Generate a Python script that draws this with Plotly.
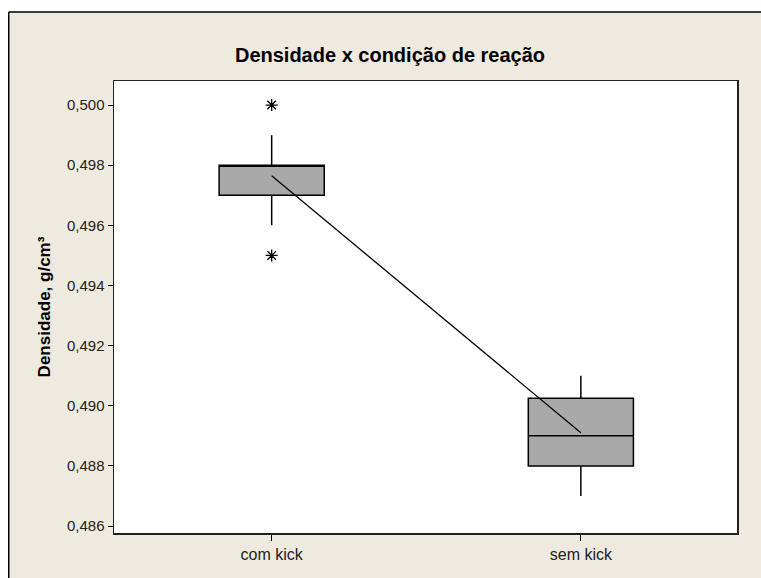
import plotly.graph_objects as go

categories = ["com kick", "sem kick"]
q1 = [0.4970, 0.4880]
median = [0.4980, 0.4890]
q3 = [0.4980, 0.49025]
lower_whisker = [0.4960, 0.4870]
upper_whisker = [0.4990, 0.4910]
means = [0.49765, 0.48910]
outlier_x = ["com kick", "com kick"]
outlier_y = [0.5000, 0.4950]

tick_vals = [0.486, 0.488, 0.490, 0.492, 0.494, 0.496, 0.498, 0.500]
tick_text = ["0,486", "0,488", "0,490", "0,492", "0,494", "0,496", "0,498", "0,500"]

W, H = 761, 578
L, T = 114, 81
R = W - 737
B = H - 533
pw, ph = W - L - R, H - T - B

def px_x(p):
    return (p - L) / pw

def px_y(p):
    return (H - B - p) / ph

fig = go.Figure()

fig.add_trace(go.Box(
    x=categories,
    q1=q1, median=median, q3=q3,
    lowerfence=lower_whisker, upperfence=upper_whisker,
    fillcolor="#A9A9A9",
    line=dict(color="black", width=1.5),
    whiskerwidth=0,
    width=0.34,
    boxpoints=False,
    showlegend=False,
    hoverinfo="skip",
))

fig.add_trace(go.Scatter(
    x=categories, y=means, mode="lines",
    line=dict(color="black", width=1.3),
    showlegend=False, hoverinfo="skip",
))

fig.add_trace(go.Scatter(
    x=outlier_x, y=outlier_y, mode="markers",
    marker=dict(symbol="asterisk-open", size=10, color="black",
                line=dict(color="black", width=1.3)),
    showlegend=False, hoverinfo="skip",
))

font_main = "Liberation Sans, Arial, sans-serif"

fig.update_layout(
    width=W, height=H,
    margin=dict(l=L, r=R, t=T, b=B, pad=0),
    paper_bgcolor="#EEEAE0",
    plot_bgcolor="white",
    font=dict(family=font_main, color="#222222"),
    title=dict(
        text="<b>Densidade x condição de reação</b>",
        x=px_x(390), xref="paper", xanchor="center",
        y=1 - 55 / H, yanchor="middle",
        font=dict(size=20, color="black", family=font_main),
    ),
    xaxis=dict(
        type="category",
        range=[-0.51, 1.505],
        showgrid=False, zeroline=False,
        showline=True, linecolor="#222222", linewidth=1.5, mirror=True,
        ticks="outside", ticklen=6, tickcolor="black", tickwidth=1,
        tickfont=dict(size=16, color="#222222"),
    ),
    yaxis=dict(
        range=[0.48577, 0.50080],
        tickvals=tick_vals, ticktext=tick_text,
        showgrid=False, zeroline=False,
        showline=True, linecolor="#222222", linewidth=1.5, mirror=True,
        ticks="outside", ticklen=5, tickcolor="black", tickwidth=1,
        tickfont=dict(size=15, color="#222222"),
        title=dict(text="<b>Densidade, g/cm³</b>", standoff=12,
                   font=dict(size=17, color="black")),
    ),
    shapes=[
        # white strips outside the outer frame (top and left)
        dict(type="rect", xref="paper", yref="paper",
             x0=px_x(-10), x1=px_x(800), y0=px_y(12), y1=px_y(-10),
             fillcolor="white", line=dict(width=0), layer="below"),
        dict(type="rect", xref="paper", yref="paper",
             x0=px_x(-10), x1=px_x(8), y0=px_y(620), y1=px_y(-10),
             fillcolor="white", line=dict(width=0), layer="below"),
        dict(type="line", xref="paper", yref="paper",
             x0=px_x(8.75), x1=px_x(800), y0=px_y(12), y1=px_y(12),
             line=dict(color="black", width=1.5), layer="below"),
        dict(type="line", xref="paper", yref="paper",
             x0=px_x(8.75), x1=px_x(8.75), y0=px_y(620), y1=px_y(12),
             line=dict(color="black", width=1.5), layer="below"),
    ],
)

fig.write_html(
    "out.html",
    config={"displayModeBar": False, "staticPlot": True},
    post_script="document.body.style.margin='0';document.body.style.overflow='hidden';",
)
